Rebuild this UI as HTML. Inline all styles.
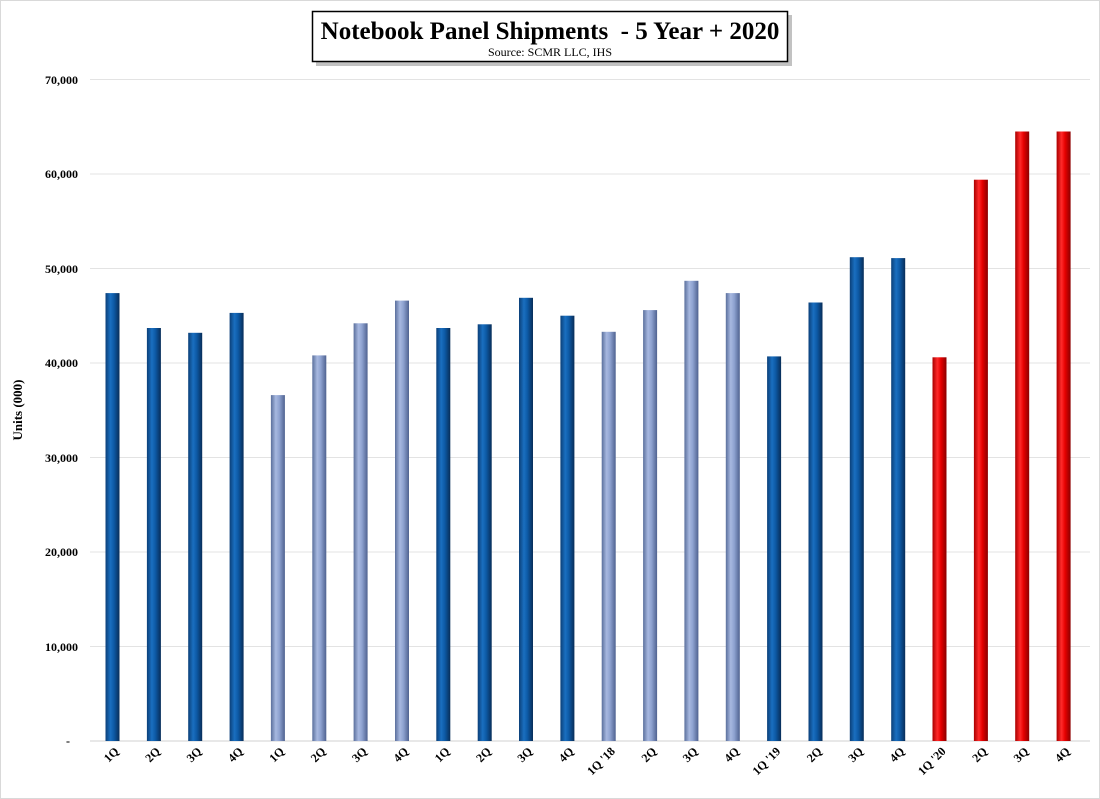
<!DOCTYPE html>
<html><head><meta charset="utf-8"><style>
body{margin:0;background:#fff}
svg{display:block}
</style></head><body>
<svg width="1100" height="799" xmlns="http://www.w3.org/2000/svg" font-family="Liberation Serif, serif">
<defs>
<linearGradient id="db" x1="0" x2="1"><stop offset="0" stop-color="#0b3f78"/><stop offset="0.35" stop-color="#1a6fc0"/><stop offset="0.6" stop-color="#0d5aa6"/><stop offset="1" stop-color="#082d58"/></linearGradient>
<linearGradient id="lb" x1="0" x2="1"><stop offset="0" stop-color="#5a6f9c"/><stop offset="0.35" stop-color="#a7b8e0"/><stop offset="0.6" stop-color="#8ea2d0"/><stop offset="1" stop-color="#4f6290"/></linearGradient>
<linearGradient id="rd" x1="0" x2="1"><stop offset="0" stop-color="#a00"/><stop offset="0.35" stop-color="#ff2a2a"/><stop offset="0.6" stop-color="#e60000"/><stop offset="1" stop-color="#8a0000"/></linearGradient>
</defs>
<rect x="0.5" y="0.5" width="1099" height="798" fill="#fff" stroke="#d9d9d9"/>
<g stroke="#e3e3e3" stroke-width="1">
<line x1="90" x2="1090" y1="79.5" y2="79.5"/><line x1="90" x2="1090" y1="174" y2="174"/><line x1="90" x2="1090" y1="268.5" y2="268.5"/><line x1="90" x2="1090" y1="363" y2="363"/><line x1="90" x2="1090" y1="457.5" y2="457.5"/><line x1="90" x2="1090" y1="552" y2="552"/><line x1="90" x2="1090" y1="646.5" y2="646.5"/>
</g>
<line x1="90" x2="1090" y1="741" y2="741" stroke="#d0d0d0"/>
<g font-size="12" font-weight="bold" text-anchor="end" fill="#000">
<text x="78" y="84">70,000</text><text x="78" y="178">60,000</text><text x="78" y="273">50,000</text><text x="78" y="367">40,000</text><text x="78" y="462">30,000</text><text x="78" y="556">20,000</text><text x="78" y="651">10,000</text><text x="70" y="745">-</text>
</g>
<text transform="translate(22,410) rotate(-90)" font-size="13" font-weight="bold" text-anchor="middle">Units (000)</text>
<g>
<rect x="105.5" y="293.1" width="14" height="447.9" fill="url(#db)"/>
<rect x="146.9" y="328" width="14" height="413" fill="url(#db)"/>
<rect x="188.2" y="332.8" width="14" height="408.2" fill="url(#db)"/>
<rect x="229.6" y="312.9" width="14" height="428.1" fill="url(#db)"/>
<rect x="270.9" y="395.1" width="14" height="345.9" fill="url(#lb)"/>
<rect x="312.3" y="355.4" width="14" height="385.6" fill="url(#lb)"/>
<rect x="353.6" y="323.3" width="14" height="417.7" fill="url(#lb)"/>
<rect x="395" y="300.6" width="14" height="440.4" fill="url(#lb)"/>
<rect x="436.3" y="328" width="14" height="413" fill="url(#db)"/>
<rect x="477.7" y="324.3" width="14" height="416.7" fill="url(#db)"/>
<rect x="519" y="297.8" width="14" height="443.2" fill="url(#db)"/>
<rect x="560.4" y="315.7" width="14" height="425.3" fill="url(#db)"/>
<rect x="601.7" y="331.8" width="14" height="409.2" fill="url(#lb)"/>
<rect x="643.1" y="310.1" width="14" height="430.9" fill="url(#lb)"/>
<rect x="684.4" y="280.8" width="14" height="460.2" fill="url(#lb)"/>
<rect x="725.8" y="293.1" width="14" height="447.9" fill="url(#lb)"/>
<rect x="767.1" y="356.4" width="14" height="384.6" fill="url(#db)"/>
<rect x="808.5" y="302.5" width="14" height="438.5" fill="url(#db)"/>
<rect x="849.8" y="257.2" width="14" height="483.8" fill="url(#db)"/>
<rect x="891.2" y="258.1" width="14" height="482.9" fill="url(#db)"/>
<rect x="932.5" y="357.3" width="14" height="383.7" fill="url(#rd)"/>
<rect x="973.9" y="179.7" width="14" height="561.3" fill="url(#rd)"/>
<rect x="1015.2" y="131.5" width="14" height="609.5" fill="url(#rd)"/>
<rect x="1056.6" y="131.5" width="14" height="609.5" fill="url(#rd)"/>
</g>
<g font-size="12" font-weight="bold" text-anchor="end">
<text transform="translate(119.5,752) rotate(-45)">1Q</text>
<text transform="translate(160.9,752) rotate(-45)">2Q</text>
<text transform="translate(202.2,752) rotate(-45)">3Q</text>
<text transform="translate(243.6,752) rotate(-45)">4Q</text>
<text transform="translate(284.9,752) rotate(-45)">1Q</text>
<text transform="translate(326.3,752) rotate(-45)">2Q</text>
<text transform="translate(367.6,752) rotate(-45)">3Q</text>
<text transform="translate(409,752) rotate(-45)">4Q</text>
<text transform="translate(450.3,752) rotate(-45)">1Q</text>
<text transform="translate(491.7,752) rotate(-45)">2Q</text>
<text transform="translate(533,752) rotate(-45)">3Q</text>
<text transform="translate(574.4,752) rotate(-45)">4Q</text>
<text transform="translate(615.7,752) rotate(-45)">1Q '18</text>
<text transform="translate(657.1,752) rotate(-45)">2Q</text>
<text transform="translate(698.4,752) rotate(-45)">3Q</text>
<text transform="translate(739.8,752) rotate(-45)">4Q</text>
<text transform="translate(781.1,752) rotate(-45)">1Q '19</text>
<text transform="translate(822.5,752) rotate(-45)">2Q</text>
<text transform="translate(863.8,752) rotate(-45)">3Q</text>
<text transform="translate(905.2,752) rotate(-45)">4Q</text>
<text transform="translate(946.5,752) rotate(-45)">1Q '20</text>
<text transform="translate(987.9,752) rotate(-45)">2Q</text>
<text transform="translate(1029.2,752) rotate(-45)">3Q</text>
<text transform="translate(1070.6,752) rotate(-45)">4Q</text>
</g>
<rect x="316" y="15" width="476" height="51" fill="#999" opacity="0.6"/>
<rect x="312.5" y="11.5" width="475" height="50" fill="#fff" stroke="#000" stroke-width="1.5"/>
<text x="550" y="39" font-size="25" font-weight="bold" text-anchor="middle" xml:space="preserve">Notebook Panel Shipments  - 5 Year + 2020</text>
<text x="550" y="56" font-size="12" text-anchor="middle">Source: SCMR LLC, IHS</text>
</svg>
</body></html>
